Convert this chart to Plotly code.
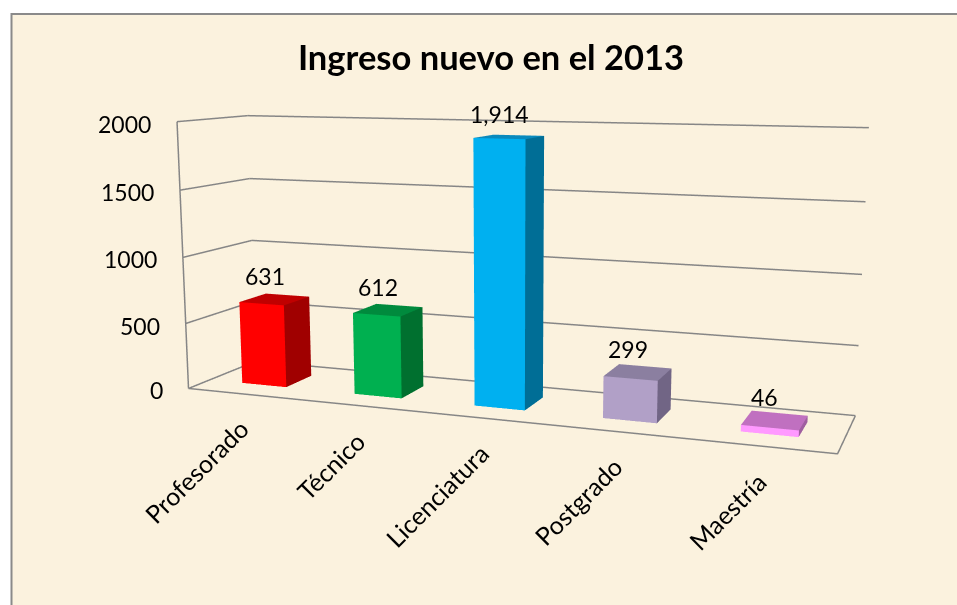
import plotly.graph_objects as go

# --- Data ---
categories = ["Profesorado", "Técnico", "Licenciatura", "Postgrado", "Maestría"]
values = [631, 612, 1914, 299, 46]
value_labels = ["631", "612", "1,914", "299", "46"]
z_ticks = [0, 500, 1000, 1500, 2000]

# --- Styles ---
FRONT_COLORS = ["#FF0000", "#00B050", "#00B0F0", "#B1A0C7", "#FF99FF"]
SIDE_COLORS = ["#A00000", "#00702F", "#006E96", "#716585", "#A05FA0"]
TOP_COLORS = ["#C00000", "#008A3D", "#0A8ABD", "#8B7FA0", "#C070C0"]
GRID_COLOR = "#868686"
PAPER_COLOR = "#FBF2DE"
FONT = "Lato, Carlito, sans-serif"

# Plotly fixes the 3D field of view, so the figure is larger than the window
# and pushed up by PAGE_TOP to get the flat perspective of the original chart
FIG_W, FIG_H, PAGE_TOP = 1016, 1127, -268
BAR_START, BAR_WIDTH = 0.30, 0.40
BAR_DEPTH = (0.30, 0.70)


def px(x):
    return x / FIG_W


def py(y):
    return 1 - (y - PAGE_TOP) / FIG_H


def bar_mesh(i, value):
    x0, x1 = i + BAR_START, i + BAR_START + BAR_WIDTH
    y0, y1 = BAR_DEPTH
    # front, right side and top, two triangles each
    return go.Mesh3d(
        x=[x0, x1, x1, x0, x0, x1, x1, x0],
        y=[y0, y0, y1, y1, y0, y0, y1, y1],
        z=[0, 0, 0, 0, value, value, value, value],
        i=[0, 0, 1, 1, 4, 4],
        j=[1, 5, 2, 6, 5, 6],
        k=[5, 4, 6, 5, 6, 7],
        facecolor=[FRONT_COLORS[i]] * 2 + [SIDE_COLORS[i]] * 2 + [TOP_COLORS[i]] * 2,
        flatshading=True,
        lighting=dict(ambient=1, diffuse=0, specular=0, fresnel=0, roughness=1),
        hoverinfo="skip",
    )


fig = go.Figure()

# --- Walls and floor ---
wall_x, wall_y, wall_z = [0, 0, None], [0, 0, None], [0, 2000, None]
for t in z_ticks:
    wall_x += [0, 0, 5, None]
    wall_y += [0, 1, 1, None]
    wall_z += [t, t, t, None]
wall_x += [0, 5, 5]
wall_y += [0, 0, 1]
wall_z += [0, 0, 0]
fig.add_trace(go.Scatter3d(
    x=wall_x, y=wall_y, z=wall_z,
    mode="lines",
    line=dict(color=GRID_COLOR, width=3),
    hoverinfo="skip",
))

# --- Bars ---
for i, value in enumerate(values):
    fig.add_trace(bar_mesh(i, value))

# --- Labels ---
labels = []
for t in z_ticks:
    labels.append(dict(
        x=0, y=0, z=t, text=str(t), showarrow=False,
        xanchor="right", xshift=-24, yshift=-2,
        font=dict(family=FONT, size=23, color="black"),
    ))
for i, (value, label) in enumerate(zip(values, value_labels)):
    labels.append(dict(
        x=i + 0.5, y=0.5, z=value, text=label, showarrow=False,
        xshift=-10, yshift=23,
        font=dict(family=FONT, size=23, color="black"),
    ))
for i, name in enumerate(categories):
    labels.append(dict(
        x=i + 0.5, y=0, z=0, text=name, showarrow=False, textangle=-45,
        xanchor="right", yanchor="top", xshift=13, yshift=-17,
        font=dict(family=FONT, size=25, color="black"),
    ))

# --- Layout ---
fig.update_layout(
    width=FIG_W,
    height=FIG_H,
    margin=dict(l=0, r=0, t=0, b=0),
    showlegend=False,
    paper_bgcolor="white",
    title=dict(
        text="<b>Ingreso nuevo en el 2013</b>",
        font=dict(family=FONT, size=34.5, color="black"),
        x=px(491), y=py(58), xanchor="center", yanchor="middle",
    ),
    shapes=[dict(
        type="rect", xref="paper", yref="paper", layer="below",
        x0=px(11.5), x1=1.01, y0=-0.01, y1=py(14),
        fillcolor=PAPER_COLOR,
        line=dict(color="#8A8A8A", width=2),
    )],
    scene=dict(
        domain=dict(x=[0, 1], y=[0, 1]),
        bgcolor="rgba(0,0,0,0)",
        aspectmode="manual",
        aspectratio=dict(x=1.6, y=0.3248, z=0.6663),
        xaxis=dict(range=[0, 5], visible=False),
        yaxis=dict(range=[0, 1], visible=False),
        zaxis=dict(range=[0, 2000], visible=False),
        camera=dict(
            eye=dict(x=1.1197, y=-2.9930, z=0.5057),
            center=dict(x=-0.0029, y=0, z=-0.0725),
            up=dict(x=0, y=0, z=1),
        ),
        annotations=labels,
    ),
)

fig.write_html(
    "out.html",
    post_script=f"document.documentElement.style.overflow='hidden';document.body.style.margin='{PAGE_TOP}px 0 0 0';",
)
